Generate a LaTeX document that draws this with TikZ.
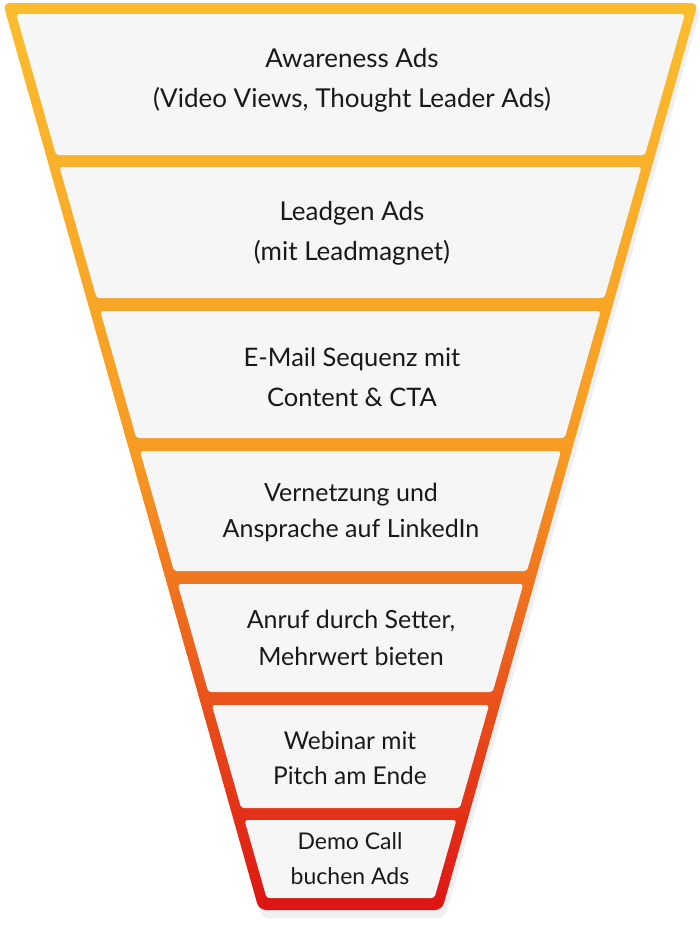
\documentclass[tikz,border=0pt]{standalone}
\usepackage{fontspec}
\setmainfont{Lato}
\definecolor{ftop}{HTML}{FBBD2E}
\definecolor{fmid}{HTML}{F79A22}
\definecolor{fbot}{HTML}{DE1414}
\definecolor{lay}{HTML}{F6F6F6}
\begin{document}
\begin{tikzpicture}[x=1pt,y=-1pt,
  layer/.style={fill=lay,rounded corners=3pt},
  lbl/.style={align=center,text=black!90,font=#1},
  lbl/.default=\fontsize{26}{40}\selectfont]
\useasboundingbox (0,0) rectangle (700,929);
\fill[black!6,rounded corners=7pt] (6,8) -- (701,8) -- (445,918) -- (262,918) -- cycle;
\shade[rounded corners=7pt,top color=ftop,bottom color=fbot,middle color=fmid]
  (3,3) -- (698,3) -- (442,910) -- (259,910) -- cycle;
\fill[layer] (16.1,14) -- (684.9,14) -- (644.9,155) -- (56.1,155) -- cycle;
\fill[layer] (59.5,167) -- (641.5,167) -- (604.4,298) -- (96.6,298) -- cycle;
\fill[layer] (100.3,311) -- (600.7,311) -- (564.7,438) -- (136.3,438) -- cycle;
\fill[layer] (140.0,451) -- (561.0,451) -- (527.0,571) -- (174.0,571) -- cycle;
\fill[layer] (177.7,584) -- (523.3,584) -- (492.7,692) -- (208.3,692) -- cycle;
\fill[layer] (211.9,705) -- (489.1,705) -- (459.9,808) -- (241.1,808) -- cycle;
\fill[layer] (244.5,820) -- (456.5,820) -- (434.4,898) -- (266.6,898) -- cycle;
\node[lbl] (t1) at (352,80) {Awareness Ads\\(Video Views, Thought Leader Ads)};
\node[lbl] (t2) at (352,233) {Leadgen Ads\\(mit Leadmagnet)};
\node[lbl={\fontsize{25.5}{40}\selectfont}] (t3) at (352,377) {E-Mail Sequenz mit\\Content \& CTA};
\node[lbl={\fontsize{25}{36}\selectfont}] (t4) at (351,512) {Vernetzung und\\Ansprache auf LinkedIn};
\node[lbl={\fontsize{25}{37}\selectfont}] (t5) at (351,638) {Anruf durch Setter,\\Mehrwert bieten};
\node[lbl={\fontsize{24.5}{35}\selectfont}] (t6) at (350,758) {Webinar mit\\Pitch am Ende};
\node[lbl={\fontsize{23}{35}\selectfont}] (t7) at (350,859) {Demo Call\\buchen Ads};
\end{tikzpicture}
\end{document}
